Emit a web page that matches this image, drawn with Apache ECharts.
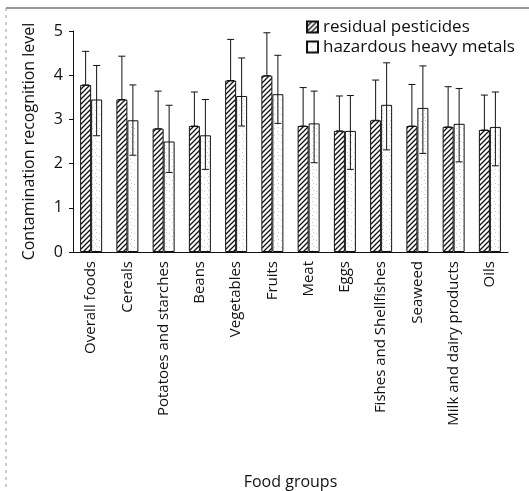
<!DOCTYPE html>
<html>
<head>
<meta charset="utf-8">
<script src="https://cdn.jsdelivr.net/npm/echarts@6/dist/echarts.min.js"></script>
<style>
  html, body { margin: 0; padding: 0; background: #fff; }
  #chart { width: 529px; height: 491px; }
</style>
</head>
<body>
<div id="chart"></div>
<script>
// food groups on the x axis
var categories = ["Overall foods", "Cereals", "Potatoes and starches", "Beans", "Vegetables",
    "Fruits", "Meat", "Eggs", "Fishes and Shellfishes", "Seaweed", "Milk and dairy products", "Oils"];

// residual pesticides: bar height and top of error bar
var pestMean = [3.78, 3.45, 2.79, 2.85, 3.88, 3.99, 2.85, 2.74, 2.98, 2.85, 2.83, 2.76];
var pestHigh = [4.54, 4.43, 3.64, 3.62, 4.81, 4.96, 3.72, 3.53, 3.89, 3.79, 3.74, 3.55];

// hazardous heavy metals: bar height, error bar bottom / top
var metalMean = [3.45, 2.98, 2.50, 2.64, 3.53, 3.57, 2.91, 2.74, 3.33, 3.26, 2.90, 2.83];
var metalLow = [2.63, 2.19, 1.80, 1.87, 2.85, 2.91, 2.02, 1.87, 2.31, 2.23, 2.04, 1.95];
var metalHigh = [4.22, 3.78, 3.32, 3.45, 4.39, 4.45, 3.64, 3.54, 4.28, 4.21, 3.70, 3.62];

var yTicks = [0, 1, 2, 3, 4, 5];

var FONT = "Open Sans";
var BAR_W = 11;

// diagonal hatch pattern
function hatchPattern() {
    var c = document.createElement("canvas");
    c.width = 5;
    c.height = 5;
    var ctx = c.getContext("2d");
    ctx.fillStyle = "#fff";
    ctx.fillRect(0, 0, 5, 5);
    ctx.strokeStyle = "#111";
    ctx.lineWidth = 1.3;
    ctx.beginPath();
    ctx.moveTo(-1, 6); ctx.lineTo(6, -1);
    ctx.moveTo(-1, 1); ctx.lineTo(1, -1);
    ctx.moveTo(4, 6); ctx.lineTo(6, 4);
    ctx.stroke();
    return c;
}

// light speckle pattern
function dotPattern() {
    var c = document.createElement("canvas");
    c.width = 7;
    c.height = 7;
    var ctx = c.getContext("2d");
    ctx.fillStyle = "#fff";
    ctx.fillRect(0, 0, 7, 7);
    ctx.fillStyle = "#c8c8c8";
    ctx.fillRect(1, 2, 1, 1);
    ctx.fillRect(4, 5, 1, 1);
    ctx.fillRect(5, 1, 1, 1);
    return c;
}

var hatchColor = {image: hatchPattern(), repeat: "repeat"};
var dotColor = {image: dotPattern(), repeat: "repeat"};

// error bar drawer; offset = bar center shift inside the category
function errorRender(offset) {
    return function (params, api) {
        var idx = api.value(0);
        var lo = api.coord([idx, api.value(1)]);
        var hi = api.coord([idx, api.value(2)]);
        var x = lo[0] + offset;
        var cap = 3.5;
        var style = {stroke: "#111", lineWidth: 1};
        return {
            type: "group",
            children: [
                {type: "line", shape: {x1: x, y1: lo[1], x2: x, y2: hi[1]}, style: style},
                {type: "line", shape: {x1: x - cap, y1: hi[1], x2: x + cap, y2: hi[1]}, style: style},
                {type: "line", shape: {x1: x - cap, y1: lo[1], x2: x + cap, y2: lo[1]}, style: style}
            ]
        };
    };
}

var pestErr = [];
var metalErr = [];
for (var i = 0; i < categories.length; i++) {
    pestErr.push([i, pestMean[i], pestHigh[i]]);
    metalErr.push([i, metalLow[i], metalHigh[i]]);
}

var myChart = echarts.init(document.getElementById("chart"));

var option = {
    backgroundColor: "#fff",
    animation: false,
    textStyle: {fontFamily: FONT, color: "#111"},
    grid: {left: 73, right: 21, top: 31, bottom: 238},
    legend: {
        orient: "vertical",
        left: 301,
        top: 13,
        itemWidth: 11,
        itemHeight: 11,
        itemGap: 2,
        icon: "rect",
        textStyle: {fontFamily: FONT, fontSize: 17, lineHeight: 18, color: "#111"},
        data: ["residual pesticides", "hazardous heavy metals"]
    },
    xAxis: {
        type: "category",
        data: categories,
        name: "Food groups",
        nameLocation: "middle",
        nameGap: 222,
        nameTextStyle: {fontFamily: FONT, fontSize: 16, color: "#111"},
        axisLine: {lineStyle: {color: "#111", width: 1}},
        axisTick: {inside: true, length: 4, lineStyle: {color: "#111"}},
        axisLabel: {
            rotate: 90,
            interval: 0,
            margin: 9,
            fontFamily: FONT,
            fontSize: 15,
            color: "#111"
        }
    },
    yAxis: {
        type: "value",
        min: 0,
        max: 5,
        interval: 1,
        name: "Contamination recognition level",
        nameLocation: "middle",
        nameGap: 36,
        nameTextStyle: {fontFamily: FONT, fontSize: 16, color: "#111"},
        axisLine: {show: true, lineStyle: {color: "#111", width: 1}},
        axisTick: {show: true, length: 4, lineStyle: {color: "#111"}},
        splitLine: {show: false},
        axisLabel: {
            margin: 10,
            fontFamily: FONT,
            fontSize: 16,
            color: "#111",
            formatter: function (v) {
                return yTicks.indexOf(v) >= 0 ? String(v) : "";
            }
        }
    },
    series: [
        {
            name: "residual pesticides",
            type: "bar",
            data: pestMean,
            barWidth: BAR_W,
            barGap: "0%",
            z: 2,
            itemStyle: {color: hatchColor, borderColor: "#111", borderWidth: 1}
        },
        {
            name: "hazardous heavy metals",
            type: "bar",
            data: metalMean,
            barWidth: BAR_W,
            barGap: "0%",
            z: 2,
            itemStyle: {color: dotColor, borderColor: "#111", borderWidth: 1}
        },
        {
            name: "pest err",
            type: "custom",
            data: pestErr,
            z: 3,
            renderItem: errorRender(-BAR_W / 2),
            encode: {x: 0, y: [1, 2]},
            silent: true
        },
        {
            name: "metal err",
            type: "custom",
            data: metalErr,
            z: 3,
            renderItem: errorRender(BAR_W / 2),
            encode: {x: 0, y: [1, 2]},
            silent: true
        }
    ],
    graphic: [
        // frame of the printed figure
        {type: "line", shape: {x1: 6, y1: 8, x2: 529, y2: 8}, style: {stroke: "#333", lineWidth: 1.2}},
        {type: "line", shape: {x1: 6, y1: 8, x2: 6, y2: 491}, style: {stroke: "#999", lineWidth: 1, lineDash: [3, 4]}}
    ]
};

myChart.setOption(option);
</script>
</body>
</html>
